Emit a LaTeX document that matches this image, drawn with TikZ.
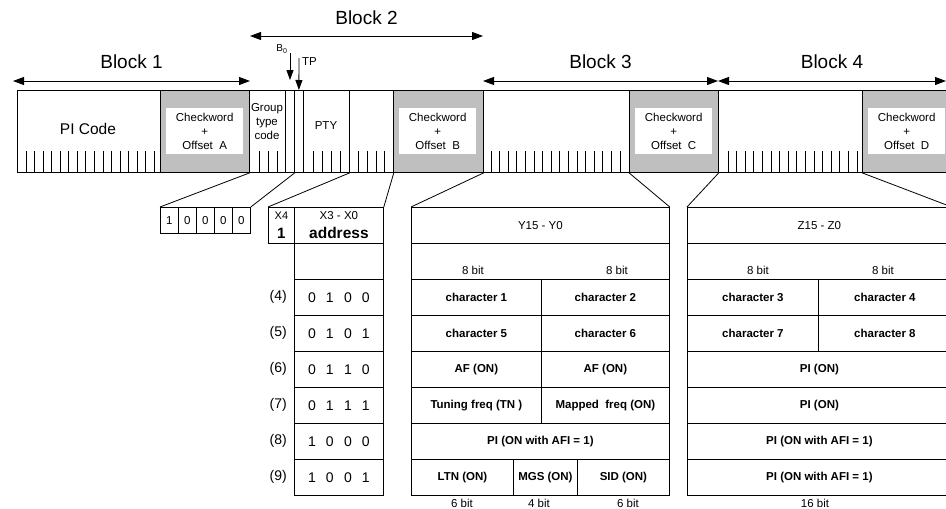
\documentclass[tikz,border=0pt]{standalone}
\usepackage{fontspec}
\setmainfont{Liberation Sans}
\usetikzlibrary{arrows.meta, positioning}

\newcommand{\bitrow}[4]{\makebox[18pt]{#1}\makebox[18pt]{#2}\makebox[18pt]{#3}\makebox[18pt]{#4}}

\begin{document}
\begin{tikzpicture}[
  x=1pt, y=-1pt,
  cell/.style      = {draw, rectangle, inner sep=0pt, anchor=north west, line width=0.8pt},
  dims/.style 2 args = {minimum width=#1pt, minimum height=#2pt},
  grey cell/.style = {cell, fill=black!25},
  white box/.style = {rectangle, fill=white, inner sep=0pt, anchor=north west, align=center,
                      font=\fontsize{11.5}{14}\selectfont},
  txt/.style  = {font=\fontsize{11.5}{14}\selectfont, align=center, inner sep=0pt},
  btxt/.style = {font=\fontsize{11.5}{14}\selectfont\bfseries, align=center},
  big/.style  = {font=\fontsize{19}{22}\selectfont, inner sep=0pt},
  tick/.style = {line width=0.8pt},
  blk/.style  = {{Triangle[length=11pt,width=8pt]}-{Triangle[length=11pt,width=8pt]}, line width=0.9pt},
  flag/.style = {-{Triangle[length=10pt,width=7pt]}, line width=0.9pt},
  link/.style = {line width=0.8pt},
]
\useasboundingbox (0,0) rectangle (946,509);

% block 1
\node[cell, dims={143}{82}] (pi) at (17,90) {};
\node[txt, font=\fontsize{15.5}{18}\selectfont] (pi-txt) at (88,129) {PI Code};
\node[grey cell, dims={89}{82}] (ckA) at (160,90) {};
\node[white box, dims={77}{46}] (ckA-in) at (166,108) {Checkword\\+\\Offset~~A};

% block 2
\node[cell, dims={36}{82}] (gtc) at (249,90) {};
\node[txt] (gtc-txt) at (267,122) {Group\\type\\code};
\node[cell, dims={9}{82}] (b0) at (285,90) {};
\node[cell, dims={9}{82}] (tp) at (294,90) {};
\node[cell, dims={46}{82}] (pty) at (303,90) {};
\node[txt] (pty-txt) at (326,126) {PTY};
\node[cell, dims={44}{82}] (xbits) at (349,90) {};
\node[grey cell, dims={90}{82}] (ckB) at (393,90) {};
\node[white box, dims={77}{46}] (ckB-in) at (399,108) {Checkword\\+\\Offset~~B};

% block 3
\node[cell, dims={146}{82}] (blk3) at (483,90) {};
\node[grey cell, dims={89}{82}] (ckC) at (629,90) {};
\node[white box, dims={77}{46}] (ckC-in) at (635,108) {Checkword\\+\\Offset~~C};

% block 4
\node[cell, dims={144}{82}] (blk4) at (718,90) {};
\node[grey cell, dims={89}{82}] (ckD) at (862,90) {};
\node[white box, dims={77}{46}] (ckD-in) at (868,108) {Checkword\\+\\Offset~~D};

% bit ticks
\foreach \i in {0,...,15} \draw[tick] (26+8.55*\i,151) -- ++(0,21);
\foreach \x in {259,268,277,313,322,331,340,358,367,376,384} \draw[tick] (\x,151) -- ++(0,21);
\foreach \i in {0,...,15} {
  \draw[tick] (491+8.6*\i,151) -- ++(0,21);
  \draw[tick] (728+8.6*\i,151) -- ++(0,21);
}

% block spans
\coordinate (b1-l) at (13,81);  \coordinate (b1-r) at (250,81);
\coordinate (b2-l) at (250,36); \coordinate (b2-r) at (483,36);
\coordinate (b3-l) at (483,81); \coordinate (b3-r) at (718,81);
\coordinate (b4-l) at (718,81); \coordinate (b4-r) at (946,81);
\draw[blk] (b1-l) -- node[big, above=12pt] (b1-lbl) {Block 1} (b1-r);
\draw[blk] (b2-l) -- node[big, above=11pt] (b2-lbl) {Block 2} (b2-r);
\draw[blk] (b3-l) -- node[big, above=12pt] (b3-lbl) {Block 3} (b3-r);
\draw[blk] (b4-l) -- node[big, above=12pt] (b4-lbl) {Block 4} (b4-r);

% B0 and TP flags
\coordinate (b0-top) at (290,53); \coordinate (b0-tip) at (290,80);
\coordinate (tp-top) at (299,58);
\draw[flag] (b0-top) -- (b0-tip);
\draw[flag] (tp-top) -- (tp.north);
\node[txt, font=\fontsize{10}{12}\selectfont] (b0-lbl) at (282,49) {B\textsubscript{0}};
\node[txt, anchor=west] (tp-lbl) at (302,62) {TP};

% group type 8A
\foreach \b [count=\i from 0] in {1,0,0,0,0}
  \node[cell, dims={18}{26}, txt] (gt\i) at (160+18*\i,207) {\b};
\draw[link] (ckA.south east) -- (gt0.north west);
\draw[link] (b0.south east) -- (gt4.north east);

% address table
\node[cell, dims={26}{36}, txt, font=\fontsize{11}{19}\selectfont] (x4) at (268,207)
  {X4\\{\fontsize{15}{18}\selectfont\bfseries 1}};
\node[cell, dims={89}{36}, txt, font=\fontsize{11.5}{19}\selectfont] (addr) at (294,207)
  {X3 - X0\\{\fontsize{15.5}{18}\selectfont\bfseries address}};
\node[cell, dims={89}{36}] (addr-0) at (294,243) {};
\foreach \r/\a/\b/\c/\d [count=\i] in {4/0/1/0/0, 5/0/1/0/1, 6/0/1/1/0, 7/0/1/1/1, 8/1/0/0/0, 9/1/0/0/1} {
  \node[cell, dims={89}{36}, font=\fontsize{14}{16}\selectfont] (addr-\i) at (294,243+36*\i) {\bitrow{\a}{\b}{\c}{\d}};
  \node[font=\fontsize{14}{16}\selectfont, anchor=east, inner sep=0pt] (row-\i) at (287,261+36*\i) {(\r)};
}
\draw[link] (pty.south east) -- (x4.north west);
\draw[link] (xbits.south east) -- (addr.north east);

% block 3 contents
\node[cell, dims={258}{36}, txt] (y-head) at (411,207) {Y15 - Y0};
\node[cell, dims={258}{36}] (y-bits) at (411,243) {};
\node[txt] (y-8a) at (473,270) {8 bit};
\node[txt] (y-8b) at (617,270) {8 bit};
\node[cell, dims={130}{36}, btxt] (y4a) at (411,279) {character 1};
\node[cell, dims={128}{36}, btxt] (y4b) at (541,279) {character 2};
\node[cell, dims={130}{36}, btxt] (y5a) at (411,315) {character 5};
\node[cell, dims={128}{36}, btxt] (y5b) at (541,315) {character 6};
\node[cell, dims={130}{36}, btxt] (y6a) at (411,351) {AF (ON)};
\node[cell, dims={128}{36}, btxt] (y6b) at (541,351) {AF (ON)};
\node[cell, dims={130}{36}, btxt] (y7a) at (411,387) {Tuning freq (TN )};
\node[cell, dims={128}{36}, btxt] (y7b) at (541,387) {Mapped~~freq (ON)};
\node[cell, dims={258}{36}, btxt] (y8)  at (411,423) {PI (ON with AFI = 1)};
\node[cell, dims={102}{36}, btxt] (y9a) at (411,459) {LTN (ON)};
\node[cell, dims={64}{36},  btxt] (y9b) at (513,459) {MGS (ON)};
\node[cell, dims={92}{36},  btxt] (y9c) at (577,459) {SID (ON)};
\node[txt] (y-6a) at (462,503) {6 bit};
\node[txt] (y-4)  at (539,503) {4 bit};
\node[txt] (y-6b) at (628,503) {6 bit};
\draw[link] (ckB.south east) -- (y-head.north west);
\draw[link] (ckC.south west) -- (y-head.north east);

% block 4 contents
\node[cell, dims={264}{36}, txt] (z-head) at (687,207) {Z15 - Z0};
\node[cell, dims={264}{36}] (z-bits) at (687,243) {};
\node[txt] (z-8a) at (758,270) {8 bit};
\node[txt] (z-8b) at (883,270) {8 bit};
\node[cell, dims={131}{36}, btxt] (z4a) at (687,279) {character 3};
\node[cell, dims={133}{36}, btxt] (z4b) at (818,279) {character 4};
\node[cell, dims={131}{36}, btxt] (z5a) at (687,315) {character 7};
\node[cell, dims={133}{36}, btxt] (z5b) at (818,315) {character 8};
\node[cell, dims={264}{36}, btxt] (z6) at (687,351) {PI (ON)};
\node[cell, dims={264}{36}, btxt] (z7) at (687,387) {PI (ON)};
\node[cell, dims={264}{36}, btxt] (z8) at (687,423) {PI (ON with AFI = 1)};
\node[cell, dims={264}{36}, btxt] (z9) at (687,459) {PI (ON with AFI = 1)};
\node[txt] (z-16) at (815,503) {16 bit};
\draw[link] (ckC.south east) -- (z-head.north west);
\draw[link] (ckD.south west) -- (z-head.north east);

\end{tikzpicture}
\end{document}
